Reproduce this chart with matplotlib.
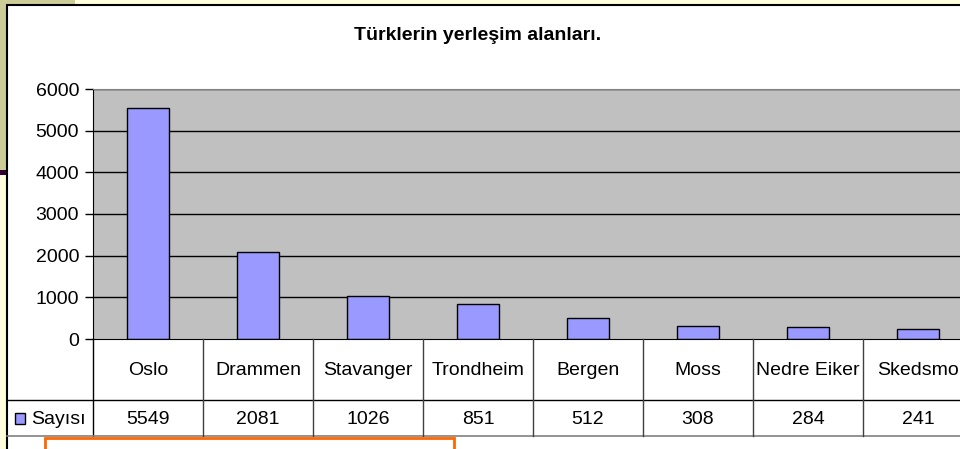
import matplotlib
matplotlib.use("Agg")
import matplotlib.pyplot as plt
from matplotlib.transforms import blended_transform_factory, Affine2D
from matplotlib.patches import Rectangle
from matplotlib.lines import Line2D

# ---- data ----
categories = ["Oslo", "Drammen", "Stavanger", "Trondheim", "Bergen", "Moss", "Nedre Eiker", "Skedsmo"]
values = [5549, 2081, 1026, 851, 512, 308, 284, 241]
series_name = "Sayısı"
title = "Türklerin yerleşim alanları."
yticks = [0, 1000, 2000, 3000, 4000, 5000, 6000]

W, H = 960, 449
FS = 14
plt.rcParams['font.family'] = ['Liberation Sans', 'DejaVu Sans']
fig = plt.figure(figsize=(W / 100, H / 100), dpi=100)
fig.patch.set_facecolor("#FFFFDD")

# pixel transform (origin top-left)
px = Affine2D().scale(1 / W, -1 / H).translate(0, 1) + fig.transFigure

def rect(x0, y0, x1, y1, z=-1, **kw):
    fig.add_artist(Rectangle((x0, y1), x1 - x0, y0 - y1, transform=px, zorder=z, **kw))

def line(xs, ys, **kw):
    fig.add_artist(Line2D(xs, ys, transform=px, **kw))

# slide decorations
rect(0, 0, 75, 5, facecolor="#CCCC99", edgecolor="none")
rect(0, 0, 7, 170, facecolor="#CCCC99", edgecolor="none")
rect(0, 170, 7, 175, facecolor="#330033", edgecolor="none")

# chart area
rect(7, 5, 1000, 470, z=-0.5, facecolor="white", edgecolor="black", linewidth=1.5)

# plot area
L, R, T, B = 93, 973, 89, 339
ax = fig.add_axes([L / W, 1 - B / H, (R - L) / W, (B - T) / H])
ax.set_zorder(1)
ax.set_facecolor("#C0C0C0")
ax.set_xlim(-0.5, len(categories) - 0.5)
ax.set_ylim(0, 6000)
ax.set_yticks(yticks)
ax.set_yticklabels([str(v) for v in yticks], fontsize=FS)
ax.set_xticks([])
ax.tick_params(axis='y', length=6, width=1, color='black', pad=4)
for yv in yticks[1:]:
    ax.axhline(yv, color='black', linewidth=1, zorder=1)
ax.bar(range(len(categories)), values, width=0.39, color="#9999FF",
       edgecolor="black", linewidth=1, zorder=2)
for s in ['top', 'right']:
    ax.spines[s].set_color('#808080')
ax.spines['left'].set_color('black')
ax.spines['bottom'].set_color('black')

# title
fig.text(478 / W, 1 - 35 / H, title, ha='center', va='center',
         fontsize=14, fontweight='bold')

# data table
bt = blended_transform_factory(ax.transData, px)
row1_top, row1_bot, row2_bot = 339, 400, 436
line([L, L], [row1_top, row2_bot], color='black', linewidth=1, zorder=2)
line([7, 1000], [row1_bot, row1_bot], color='black', linewidth=1, zorder=2)
line([7, 1000], [row2_bot, row2_bot], color='#808080', linewidth=1.2, zorder=2)
for i, (c, v) in enumerate(zip(categories, values)):
    fig.add_artist(Line2D([i + 0.5, i + 0.5], [row1_top, row2_bot], transform=bt,
                          color='#404040', linewidth=1, zorder=2))
    fig.text(i, (row1_top + row1_bot) / 2 + 1, c, transform=bt, ha='center',
             va='center', fontsize=FS)
    fig.text(i, (row1_bot + row2_bot) / 2 + 1, str(v), transform=bt, ha='center',
             va='center', fontsize=FS)

rect(15, 413, 25, 424, z=2, facecolor="#9999FF", edgecolor="black", linewidth=1)
fig.text(31 / W, 1 - 419 / H, series_name, ha='left', va='center', fontsize=FS)

# orange textbox outline at bottom
rect(45, 438, 454, 460, z=2, facecolor="white", edgecolor="#FF6600", linewidth=2)

fig.savefig("out.png", dpi=100)
